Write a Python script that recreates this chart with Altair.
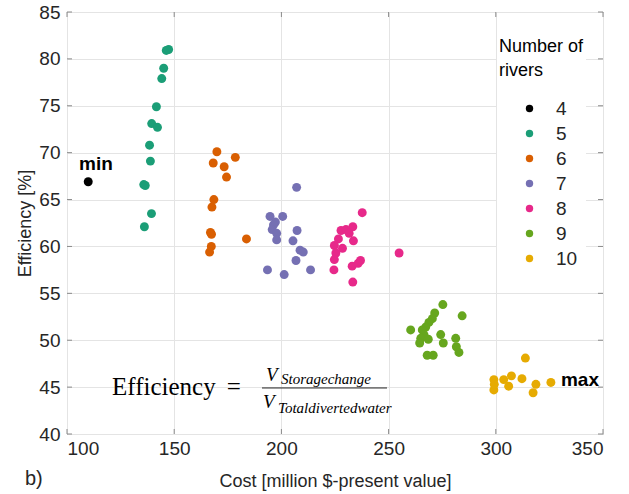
import altair as alt
import pandas as pd

rivers_order = ["4", "5", "6", "7", "8", "9", "10"]
colors = ["#000000", "#1b9e77", "#d95f02", "#7570b3", "#e7298a", "#66a61e", "#e6ab02"]

cost_4 = [109.9]
eff_4 = [66.9]
cost_5 = [147.4, 146.3, 145.1, 144.2, 141.7, 139.5, 142.2, 138.5, 138.9, 135.8, 136.5, 139.4, 136.1]
eff_5 = [81.0, 80.9, 79.0, 77.9, 74.9, 73.1, 72.7, 70.8, 69.1, 66.6, 66.5, 63.5, 62.1]
cost_6 = [169.9, 178.5, 168.2, 173.3, 174.4, 168.5, 167.6, 166.9, 167.4, 183.7, 167.3, 166.5]
eff_6 = [70.1, 69.5, 68.9, 68.5, 67.4, 65.0, 64.2, 61.5, 61.3, 60.8, 60.0, 59.4]
cost_7 = [207.1, 194.7, 200.6, 197.2, 196.3, 195.7, 197.8, 197.8, 207.3, 205.4, 208.7, 210.2, 206.8, 193.5, 201.3, 213.6]
eff_7 = [66.3, 63.2, 63.2, 62.6, 62.3, 61.8, 61.4, 60.7, 61.7, 60.6, 59.6, 59.4, 58.5, 57.5, 57.0, 57.5]
cost_8 = [237.7, 233.3, 227.8, 230.1, 231.6, 233.6, 226.6, 228.5, 224.7, 225.4, 224.7, 224.5, 233.0, 235.8, 236.9, 233.3, 254.9]
eff_8 = [63.6, 62.1, 61.7, 61.8, 61.4, 60.6, 60.8, 59.8, 60.1, 59.3, 58.6, 57.5, 57.9, 58.2, 58.5, 56.2, 59.3]
cost_9 = [275.3, 271.5, 284.3, 270.4, 268.8, 260.3, 267.3, 265.7, 266.5, 265.0, 268.5, 264.5, 274.3, 275.5, 281.3, 281.6, 282.8, 268.0, 270.8]
eff_9 = [53.8, 52.9, 52.6, 52.3, 51.9, 51.1, 51.4, 51.1, 50.6, 50.2, 50.1, 49.7, 50.6, 49.7, 50.2, 49.3, 48.7, 48.4, 48.4]
cost_10 = [313.8, 299.1, 299.1, 299.3, 303.7, 307.3, 306.0, 312.2, 318.7, 317.4, 325.7]
eff_10 = [48.1, 45.8, 44.7, 45.3, 45.8, 46.2, 45.1, 45.9, 45.3, 44.4, 45.5]

x_ticks = [100, 150, 200, 250, 300, 350]
y_ticks = [40, 45, 50, 55, 60, 65, 70, 75, 80, 85]

groups = [("4", cost_4, eff_4), ("5", cost_5, eff_5), ("6", cost_6, eff_6),
          ("7", cost_7, eff_7), ("8", cost_8, eff_8), ("9", cost_9, eff_9),
          ("10", cost_10, eff_10)]
rows = []
for r, cs, es in groups:
    for c, e in zip(cs, es):
        rows.append({"Cost": c, "Eff": e, "Rivers": r})
df = pd.DataFrame(rows)

W, H = 536, 422
xs = alt.Scale(domain=[100, 350], nice=False, zero=False)
ys = alt.Scale(domain=[40, 85], nice=False, zero=False)
SPINE = "#8a8a8a"

points = alt.Chart(df).mark_circle(size=80, opacity=1).encode(
    x=alt.X("Cost:Q", scale=xs, title="Cost [million $-present value]",
            axis=alt.Axis(values=x_ticks, labelPadding=5, titlePadding=14)),
    y=alt.Y("Eff:Q", scale=ys, title="Efficiency [%]",
            axis=alt.Axis(values=y_ticks, labelPadding=7, titlePadding=4)),
    color=alt.Color("Rivers:N", sort=rivers_order,
                    scale=alt.Scale(domain=rivers_order, range=colors),
                    legend=alt.Legend(title=["Number of", "rivers"], orient="none",
                                      legendX=430, legendY=24, padding=2,
                                      fillColor="white", symbolType="circle",
                                      symbolSize=55, symbolOffset=21, labelOffset=17,
                                      titleLineHeight=24, titlePadding=19,
                                      rowPadding=5))
)

xt = pd.DataFrame({"Cost": x_ticks})
yt = pd.DataFrame({"Eff": y_ticks})
tick_b = alt.Chart(xt).mark_rule(color=SPINE).encode(x="Cost:Q", y=alt.value(H), y2=alt.value(H - 5))
tick_t = alt.Chart(xt).mark_rule(color=SPINE).encode(x="Cost:Q", y=alt.value(0), y2=alt.value(5))
tick_l = alt.Chart(yt).mark_rule(color=SPINE).encode(y="Eff:Q", x=alt.value(0), x2=alt.value(5))
tick_r = alt.Chart(yt).mark_rule(color=SPINE).encode(y="Eff:Q", x=alt.value(W - 5), x2=alt.value(W))

minmax = pd.DataFrame({"Cost": [105.6, 330.4], "Eff": [68.15, 45.15], "label": ["min", "max"]})
mm = alt.Chart(minmax).mark_text(align="left", baseline="alphabetic", font="Liberation Sans",
                                 fontSize=19, fontWeight="bold", color="black").encode(
    x="Cost:Q", y="Eff:Q", text="label:N")

eq_big = pd.DataFrame({"Cost": [121.0, 174.5], "Eff": [44.16, 44.16], "label": ["Efficiency", "="]})
eq1 = alt.Chart(eq_big).mark_text(align="left", baseline="alphabetic", font="Liberation Serif",
                                  fontSize=25, color="black").encode(x="Cost:Q", y="Eff:Q", text="label:N")
eq_v = pd.DataFrame({"Cost": [192.8, 191.4], "Eff": [45.65, 42.77], "label": ["V", "V"]})
eq2 = alt.Chart(eq_v).mark_text(align="left", baseline="alphabetic", font="Liberation Serif",
                                fontSize=19, fontStyle="italic", color="black").encode(x="Cost:Q", y="Eff:Q", text="label:N")
eq_sub = pd.DataFrame({"Cost": [199.8, 198.4], "Eff": [45.33, 42.24],
                       "label": ["Storagechange", "Totaldivertedwater"]})
eq3 = alt.Chart(eq_sub).mark_text(align="left", baseline="alphabetic", font="Liberation Serif",
                                  fontSize=15, fontStyle="italic", color="black").encode(x="Cost:Q", y="Eff:Q", text="label:N")
bar = pd.DataFrame({"Cost": [190.95], "Cost2": [249.25], "Eff": [44.91]})
eqbar = alt.Chart(bar).mark_rule(color="#222", strokeWidth=1).encode(x="Cost:Q", x2="Cost2:Q", y="Eff:Q")

blabel = alt.Chart(pd.DataFrame({"label": ["b)"]})).mark_text(
    align="left", baseline="alphabetic", font="Liberation Sans", fontSize=20, color="#262626").encode(
    text="label:N", x=alt.value(-42), y=alt.value(473))

chart = alt.layer(points, tick_b, tick_t, tick_l, tick_r, mm, eq1, eq2, eq3, eqbar, blabel).properties(
    width=W, height=H,
    autosize=alt.AutoSizeParams(type="none"),
    padding={"left": 67, "top": 12, "right": 26, "bottom": 60},
    background="white",
).configure_view(stroke=SPINE, strokeWidth=1).configure_axis(
    domain=False, ticks=False, grid=True, gridColor="#e4e4e4",
    labelFont="Liberation Sans", labelFontSize=19, labelColor="#262626",
    titleFont="Liberation Sans", titleFontSize=18, titleFontWeight="normal", titleColor="#262626",
).configure_legend(
    titleFont="Liberation Sans", titleFontSize=18, titleFontWeight="normal", titleColor="black",
    labelFont="Liberation Sans", labelFontSize=19, labelColor="#262626",
)

chart.save("out.html", embed_options={"renderer": "svg", "actions": False})
